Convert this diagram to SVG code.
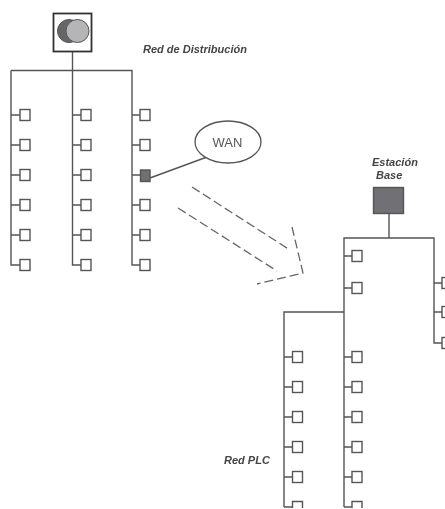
<svg xmlns="http://www.w3.org/2000/svg" width="445" height="509" viewBox="0 0 445 509">
<style>
.w{stroke:#555;stroke-width:1.4;fill:none}
.d{stroke:#666;stroke-width:1.3;fill:none;stroke-dasharray:9 4}
.s{fill:#fff;stroke:#555;stroke-width:1.4}
.f{fill:#6f6f74;stroke:#555;stroke-width:1.4}
.t{font-family:"Liberation Sans",Arial,sans-serif;font-weight:bold;font-style:italic;font-size:11px;fill:#444}
</style>
<defs>
<rect id="n" class="s" x="-5" y="-5.500" width="10" height="11"/>
<filter id="soft" filterUnits="userSpaceOnUse" x="0" y="0" width="445" height="509"><feGaussianBlur stdDeviation="0.4"/></filter>
</defs>
<rect width="445" height="509" fill="#fff"/>
<g filter="url(#soft)">
<g id="connectors">
<path class="w" d="M72.500 51V265H81M11 70.500H132V265H140M11 70.500V265H20"/>
<path class="w" d="M11 115H20M11 145H20M11 175H20M11 205H20M11 235H20M72.500 115H81M72.500 145H81M72.500 175H81M72.500 205H81M72.500 235H81M132 115H140M132 145H140M132 175H140M132 205H140M132 235H140"/>
<path class="w" d="M150 178L207 157"/>
<path class="d" d="M192 187L290 250M178 208L277 271M292 227L303 273L257 284"/>
<path class="w" d="M389 214V238M344 507V238H434V343H442M284 507V312H344"/>
<path class="w" d="M344 256H352M344 288H352M434 283H442M434 312H442M284 357H292M284 387H292M284 417H292M284 447H292M284 477H292M284 507H292M344 357H352M344 387H352M344 417H352M344 447H352M344 477H352M344 507H352"/>
</g>
<g id="transformer">
<rect x="53.500" y="13.500" width="38" height="38" fill="#fff" stroke="#333" stroke-width="1.800"/>
<circle cx="69" cy="31" r="11.500" fill="#666" stroke="#555"/>
<circle cx="77.500" cy="31" r="11.500" fill="#b5b5b8" stroke="#555"/>
</g>
<g id="dist-label"><text class="t" x="143" y="53" font-size="10.500">Red de Distribución</text></g>
<g id="wan">
<ellipse cx="228" cy="142" rx="33" ry="21" fill="#fff" stroke="#555" stroke-width="1.300"/>
<text x="227.500" y="147" text-anchor="middle" font-family="Liberation Sans,Arial,sans-serif" font-size="13" fill="#555">WAN</text>
</g>
<g id="dist-nodes">
<use href="#n" x="25" y="115"/><use href="#n" x="25" y="145"/><use href="#n" x="25" y="175"/><use href="#n" x="25" y="205"/><use href="#n" x="25" y="235"/><use href="#n" x="25" y="265"/>
<use href="#n" x="86" y="115"/><use href="#n" x="86" y="145"/><use href="#n" x="86" y="175"/><use href="#n" x="86" y="205"/><use href="#n" x="86" y="235"/><use href="#n" x="86" y="265"/>
<use href="#n" x="145" y="115"/><use href="#n" x="145" y="145"/><rect id="gateway" class="f" x="140.500" y="170" width="9.500" height="11.500"/><use href="#n" x="145" y="205"/><use href="#n" x="145" y="235"/><use href="#n" x="145" y="265"/>
</g>
<g id="base-station">
<text class="t" x="372" y="166">Estación</text>
<text class="t" x="376" y="179">Base</text>
<rect class="f" x="373.500" y="187.500" width="30" height="26"/>
</g>
<g id="plc-nodes">
<use href="#n" x="357" y="256"/><use href="#n" x="357" y="288"/>
<use href="#n" x="447" y="283"/><use href="#n" x="447" y="312"/><use href="#n" x="447" y="343"/>
<use href="#n" x="297.500" y="357"/><use href="#n" x="297.500" y="387"/><use href="#n" x="297.500" y="417"/><use href="#n" x="297.500" y="447"/><use href="#n" x="297.500" y="477"/>
<use href="#n" x="357" y="357"/><use href="#n" x="357" y="387"/><use href="#n" x="357" y="417"/><use href="#n" x="357" y="447"/><use href="#n" x="357" y="477"/>
<path class="w" d="M292.500 508V501.500H302.500V508M352 508V501.500H362V508"/>
</g>
<g id="plc-label"><text class="t" x="224" y="464">Red PLC</text></g>
</g>
</svg>
